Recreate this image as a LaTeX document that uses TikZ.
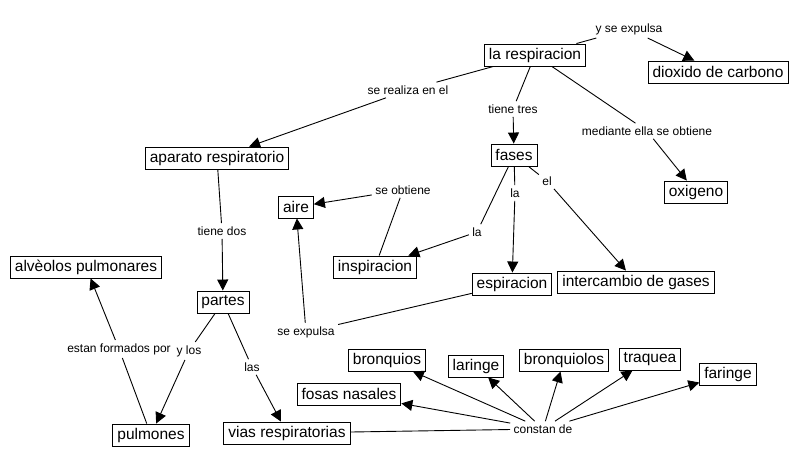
\documentclass[tikz,border=0pt]{standalone}
\usepackage{fontspec}
\setmainfont{Liberation Sans}
\usetikzlibrary{arrows.meta}

\begin{document}
\begin{tikzpicture}[x=1pt,y=-1pt,line width=0.9pt,>={Triangle[length=11pt,width=11pt]}]

      \useasboundingbox (0,0) rectangle (801,468);

      \begin{scope}[every node/.style={draw,rectangle,font=\fontsize{15.5}{18}\selectfont,inner xsep=4.5pt,inner ysep=3pt,minimum height=22pt}]
        \node (resp) at (535,55) {la respiracion};
        \node (dioxido) at (718,72) {dioxido de carbono};
        \node (aparato) at (217,158) {aparato respiratorio};
        \node (fases) at (514,155) {fases};
        \node (oxigeno) at (696,192) {oxigeno};
        \node (aire) at (296,207) {aire};
        \node (inspir) at (375,267) {inspiracion};
        \node (espir) at (512,284) {espiracion};
        \node (gases) at (636,282) {intercambio de gases};
        \node (alveolos) at (86,267) {alvèolos pulmonares};
        \node (partes) at (223,302) {partes};
        \node (pulmones) at (151,435) {pulmones};
        \node (vias) at (287,433) {vias respiratorias};
        \node (bronquios) at (387,360) {bronquios};
        \node (laringe) at (476,366) {laringe};
        \node (bronquiolos) at (564,360) {bronquiolos};
        \node (traquea) at (650,359) {traquea};
        \node (faringe) at (728,374) {faringe};
        \node (fosas) at (349,394) {fosas nasales};
      \end{scope}

      \begin{scope}[every node/.style={font=\fontsize{12}{14}\selectfont,inner sep=3pt}]
        \node (expulsa1) at (629,29) {y se expulsa};
        \node (realiza) at (408,90) {se realiza en el};
        \node (tres) at (513,109) {tiene tres};
        \node (mediante) at (647,131) {mediante ella se obtiene};
        \node (obtiene) at (403,190) {se obtiene};
        \node (la1) at (477,232) {la};
        \node (la2) at (515,193) {la};
        \node (el) at (547,181) {el};
        \node (dos) at (222,231) {tiene dos};
        \node (expulsa2) at (306,332) {se expulsa};
        \node (formados) at (119,349) {estan formados por};
        \node (ylos) at (189,351) {y los};
        \node (las) at (252,367) {las};
        \node (constan) at (543,429) {constan de};
      \end{scope}

      \begin{scope}[every edge/.style={draw}]
        \path (resp) edge (expulsa1);
        \path (resp) edge (realiza);
        \path (resp) edge (tres);
        \path (resp) edge (mediante);
        \path (aparato) edge (dos);
        \path (fases) edge (la1);
        \path (fases) edge (la2);
        \path (fases) edge (el);
        \path (inspir) edge (obtiene);
        \path (espir) edge (expulsa2);
        \path (partes) edge (ylos);
        \path (partes) edge (las);
        \path (pulmones) edge (formados);
        \path (vias) edge (constan);
      \end{scope}

      \begin{scope}[every edge/.style={draw,->}]
        \path (expulsa1) edge (dioxido);
        \path (realiza) edge (aparato);
        \path (tres) edge (fases);
        \path (mediante) edge (oxigeno);
        \path (dos) edge (partes);
        \path (la1) edge (inspir);
        \path (la2) edge (espir);
        \path (el) edge (gases);
        \path (obtiene) edge (aire);
        \path (expulsa2) edge (aire);
        \path (ylos) edge (pulmones);
        \path (las) edge (vias);
        \path (formados) edge (alveolos);
        \path (constan) edge (bronquios);
        \path (constan) edge (laringe);
        \path (constan) edge (bronquiolos);
        \path (constan) edge (traquea);
        \path (constan) edge (faringe);
        \path (constan) edge (fosas);
      \end{scope}

    \end{tikzpicture}
\end{document}
